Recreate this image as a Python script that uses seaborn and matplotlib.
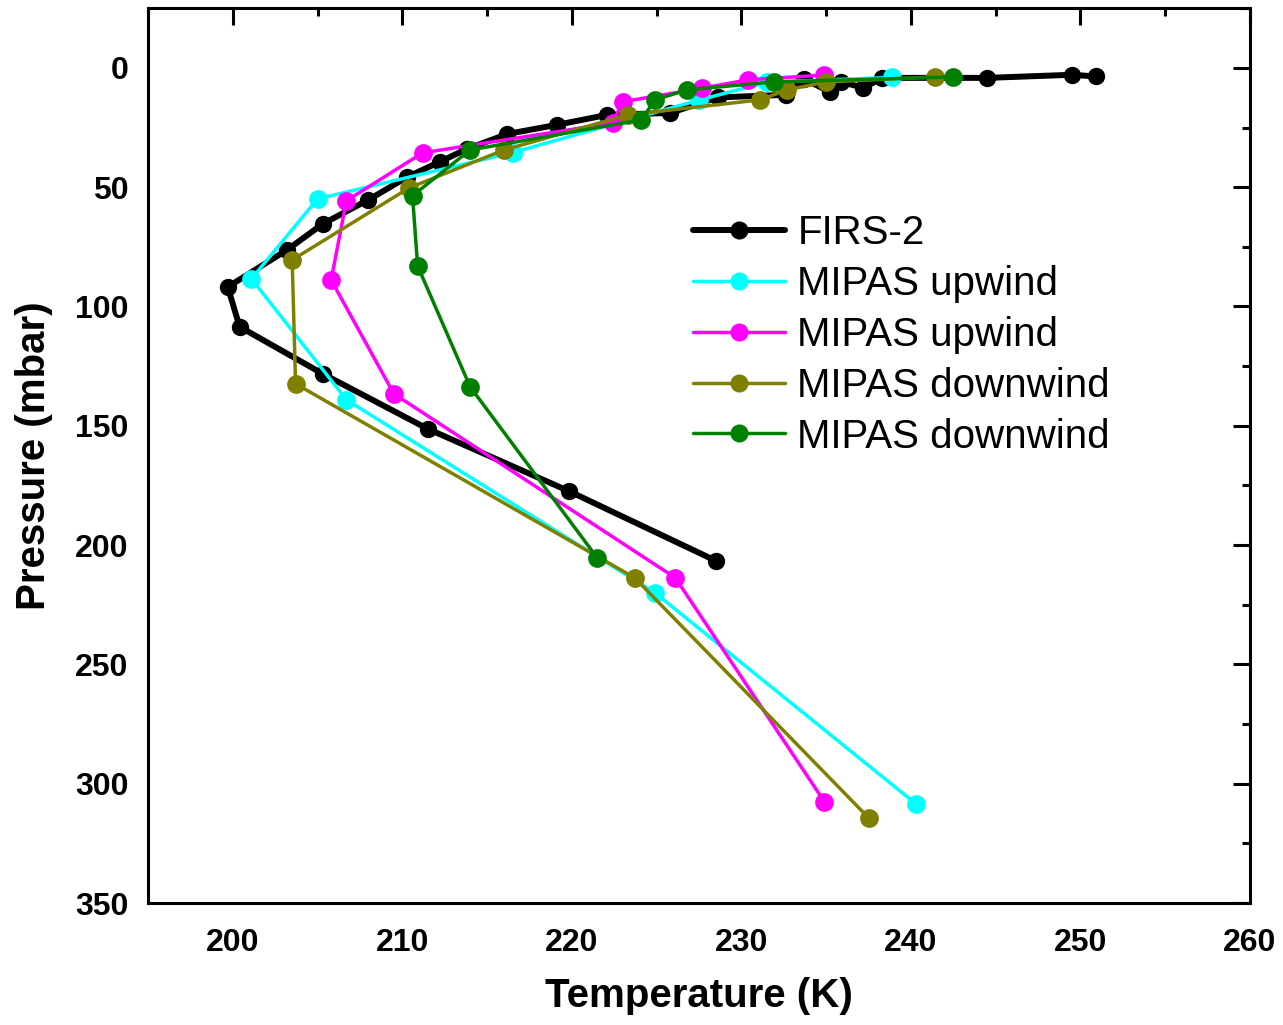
import matplotlib
matplotlib.use("Agg")
import matplotlib.pyplot as plt
import seaborn as sns
import pandas as pd
from matplotlib.ticker import MultipleLocator

sns.set_theme(style="white")
plt.rcParams['font.family'] = ['Liberation Sans', 'DejaVu Sans']
plt.rcParams['text.color'] = 'black'
plt.rcParams['axes.labelcolor'] = 'black'
plt.rcParams['xtick.color'] = 'black'
plt.rcParams['ytick.color'] = 'black'

# ---- data (temperature K, pressure mbar) ----
firs_T = [250.9, 249.5, 244.5, 238.3, 237.2, 235.9, 235.2, 233.7, 232.6, 228.6, 225.8,
          222.1, 219.1, 216.2, 213.8, 212.2, 210.3, 208.0, 205.3, 203.2, 199.7, 200.4,
          205.3, 211.5, 219.8, 228.5]
firs_P = [3.6, 2.9, 4.2, 4.2, 8.4, 5.9, 10.1, 4.6, 11.3, 12.4, 18.9,
          19.7, 23.9, 27.7, 34.0, 39.4, 45.7, 55.3, 65.4, 76.3, 91.8, 108.5,
          128.2, 151.3, 177.3, 206.6]

up1_T = [238.9, 231.5, 227.5, 216.5, 205.0, 201.1, 206.7, 224.9, 240.3]
up1_P = [4.0, 6.0, 13.5, 35.5, 54.9, 88.4, 139.1, 220.0, 308.5]

up2_T = [234.9, 230.4, 227.7, 223.0, 222.4, 211.2, 206.7, 205.8, 209.5, 226.1, 234.9]
up2_P = [3.0, 5.0, 8.5, 14.2, 23.1, 35.6, 55.7, 88.9, 136.6, 213.7, 307.6]

down1_T = [241.4, 235.0, 232.7, 231.1, 223.3, 216.0, 210.4, 203.5, 203.7, 223.7, 237.5]
down1_P = [3.8, 5.9, 9.2, 13.4, 19.7, 34.4, 50.3, 80.5, 132.4, 213.7, 314.3]

down2_T = [242.5, 231.9, 226.8, 224.9, 224.1, 214.0, 210.6, 210.9, 214.0, 221.5]
down2_P = [3.8, 5.9, 9.2, 13.4, 21.8, 34.4, 53.6, 83.0, 133.7, 205.4]

labels = ["FIRS-2", "MIPAS upwind", "MIPAS upwind", "MIPAS downwind", "MIPAS downwind"]
colors = ["#000000", "#00FFFF", "#FF00FF", "#808000", "#008000"]
series = [(firs_T, firs_P), (up1_T, up1_P), (up2_T, up2_P), (down1_T, down1_P), (down2_T, down2_P)]

fig = plt.figure(figsize=(12.83, 10.25), dpi=100)
ax = fig.add_axes([0.1154, 0.119, 0.8589, 0.873])

for i, ((T, P), lab, col) in enumerate(zip(series, labels, colors)):
    df = pd.DataFrame({"T": T, "P": P})
    lw = 4.3 if i == 0 else 2.5
    ms = 12.5 if i == 0 else 13.5
    sns.lineplot(data=df, x="T", y="P", sort=False, estimator=None, ax=ax,
                 color=col, lw=lw, marker="o", markersize=ms, markeredgewidth=0,
                 label=lab)

ax.set_xlim(195, 260)
ax.set_ylim(350, -25)
ax.xaxis.set_major_locator(MultipleLocator(10))
ax.xaxis.set_minor_locator(MultipleLocator(5))
ax.yaxis.set_major_locator(MultipleLocator(50))
ax.yaxis.set_minor_locator(MultipleLocator(25))
ax.tick_params(which="both", direction="in", top=True, right=True, width=2.2, color="black")
ax.tick_params(which="major", length=12, labelsize=23)
ax.tick_params(axis="x", which="major", pad=18)
ax.tick_params(axis="y", which="major", pad=14)
ax.tick_params(which="minor", length=6)
for lab in ax.get_xticklabels() + ax.get_yticklabels():
    lab.set_fontweight("bold")
for s in ax.spines.values():
    s.set_linewidth(2.2)
    s.set_color("black")

ax.set_xlabel("Temperature (K)", fontsize=29, fontweight="bold", labelpad=14)
ax.set_ylabel("Pressure (mbar)", fontsize=29, fontweight="bold", labelpad=16)

leg = ax.legend(loc="upper left", bbox_to_anchor=(0.4795, 0.788), frameon=False,
                fontsize=29, handlelength=2.3, handletextpad=0.3, labelspacing=0.32,
                borderaxespad=0)
for h in leg.get_lines():
    h.set_markersize(13)
for t in leg.get_texts():
    t.set_color("black")

fig.savefig("out.png", dpi=100)
